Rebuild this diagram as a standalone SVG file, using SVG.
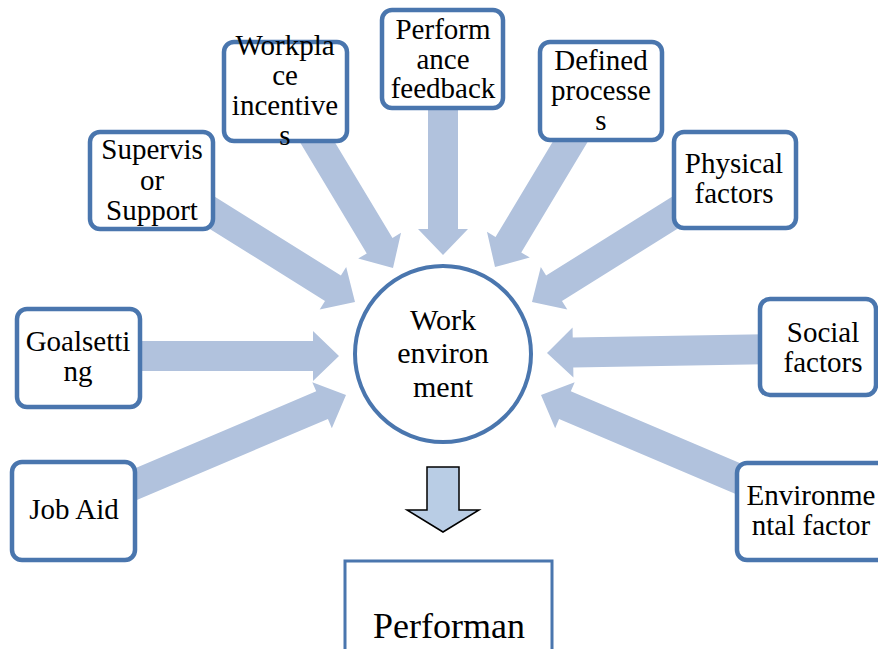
<svg xmlns="http://www.w3.org/2000/svg" width="878" height="649" viewBox="0 0 878 649">
<style>
.box{fill:#fff;stroke:#4a76ae;stroke-width:4.5}
.t{font-family:'Liberation Serif','DejaVu Serif',serif;font-size:29px;fill:#000;text-anchor:middle}
.arr{fill:#b1c2dd}
</style>
<rect width="878" height="649" fill="#fff"/>
<g id="connectors">
<path class="arr" transform="translate(355,302) rotate(32)" d="M-185,-15H-26V-25L0,0L-26,25V15H-185Z"/>
<path class="arr" transform="translate(393,268) rotate(59)" d="M-160,-15H-26V-25L0,0L-26,25V15H-160Z"/>
<path class="arr" transform="translate(443,255) rotate(90)" d="M-160,-15H-26V-25L0,0L-26,25V15H-160Z"/>
<path class="arr" transform="translate(495,267) rotate(121)" d="M-165,-15H-26V-25L0,0L-26,25V15H-165Z"/>
<path class="arr" transform="translate(532,302) rotate(148)" d="M-190,-15H-26V-25L0,0L-26,25V15H-190Z"/>
<path class="arr" transform="translate(547,353) rotate(179)" d="M-240,-15H-26V-25L0,0L-26,25V15H-240Z"/>
<path class="arr" transform="translate(541,395) rotate(203)" d="M-230,-15H-26V-25L0,0L-26,25V15H-230Z"/>
<path class="arr" transform="translate(346,395) rotate(-23)" d="M-240,-15H-26V-25L0,0L-26,25V15H-240Z"/>
<path class="arr" transform="translate(339,356)" d="M-210,-15H-26V-25L0,0L-26,25V15H-210Z"/>
<polygon points="427,467 459,467 459,510 479,510 443,532 407,510 427,510" fill="#b9cde5" stroke="#000" stroke-width="1.5"/>
</g>
<g id="supervisor">
<rect class="box" x="90" y="132" width="123" height="97" rx="10"/>
<text class="t" font-family="Liberation Serif" x="152" y="159">Supervis</text>
<text class="t" x="152" y="190">or</text>
<text class="t" x="152" y="220">Support</text>
</g>
<g id="workplace">
<rect class="box" x="224" y="42" width="123" height="99" rx="10"/>
<text class="t" x="285" y="55">Workpla</text>
<text class="t" x="285" y="85">ce</text>
<text class="t" x="285" y="115">incentive</text>
<text class="t" x="285" y="145">s</text>
</g>
<g id="feedback">
<rect class="box" x="382" y="10" width="121" height="98" rx="10"/>
<text class="t" x="443" y="39">Perform</text>
<text class="t" x="443" y="69">ance</text>
<text class="t" x="443" y="98">feedback</text>
</g>
<g id="defined">
<rect class="box" x="540" y="42" width="122" height="98" rx="10"/>
<text class="t" x="601" y="70">Defined</text>
<text class="t" x="601" y="100">processe</text>
<text class="t" x="601" y="130">s</text>
</g>
<g id="physical">
<rect class="box" x="674" y="132" width="122" height="96" rx="10"/>
<text class="t" x="734" y="173">Physical</text>
<text class="t" x="734" y="203">factors</text>
</g>
<g id="goal">
<rect class="box" x="17" y="309" width="123" height="98" rx="10"/>
<text class="t" x="78" y="351">Goalsetti</text>
<text class="t" x="78" y="381">ng</text>
</g>
<g id="jobaid">
<rect class="box" x="12" y="462" width="123" height="98" rx="10"/>
<text class="t" x="74" y="519">Job Aid</text>
</g>
<g id="social">
<rect class="box" x="760" y="299" width="116" height="96" rx="10"/>
<text class="t" x="823" y="342">Social</text>
<text class="t" x="823" y="372">factors</text>
</g>
<g id="environmental">
<rect class="box" x="737" y="463" width="160" height="97" rx="10"/>
<text class="t" x="811" y="505">Environme</text>
<text class="t" x="811" y="535">ntal factor</text>
</g>
<g id="work">
<circle cx="443" cy="354" r="88" fill="#fff" stroke="#4a76ae" stroke-width="4"/>
<text class="t" x="443" y="330" style="font-size:30px">Work</text>
<text class="t" x="443" y="363" style="font-size:30px">environ</text>
<text class="t" x="443" y="397" style="font-size:30px">ment</text>
</g>
<g id="performance">
<rect x="345" y="561" width="207" height="100" fill="#fff" stroke="#4a76ae" stroke-width="3"/>
<text class="t" x="449" y="638" style="font-size:36px">Performan</text>
</g>
</svg>
